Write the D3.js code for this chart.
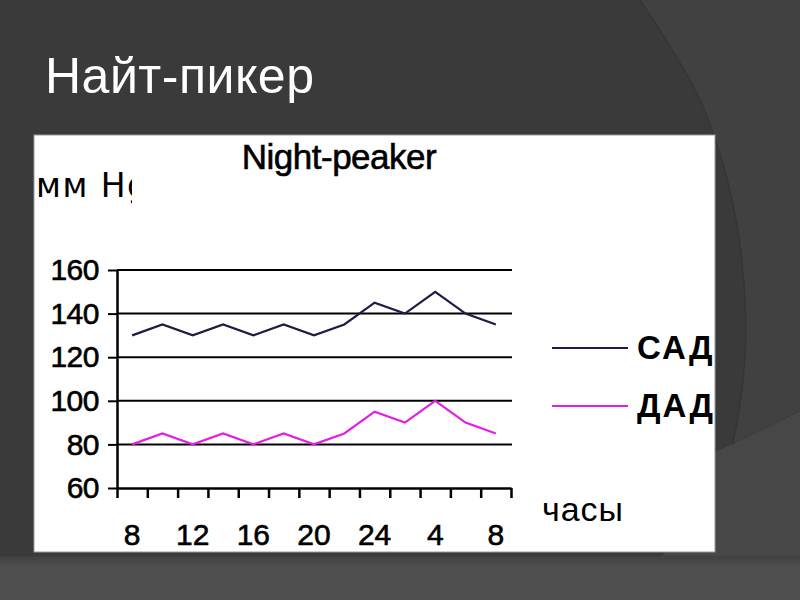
<!DOCTYPE html>
<html>
<head>
<meta charset="utf-8">
<script src="https://cdn.jsdelivr.net/npm/d3@7"></script>
<style>
  html, body { margin: 0; padding: 0; background: #3a3a3a; }
  svg { display: block; font-family: "Liberation Sans", Arial, sans-serif; }
  .ink { stroke: #000; stroke-width: 0.6px; }
</style>
</head>
<body>
<svg id="chart" width="800" height="600"></svg>
<script>
// ---- data ----
const hours = ["8","10","12","14","16","18","20","22","24","2","4","6","8"];
const tickLabelIdx = [0, 2, 4, 6, 8, 10, 12];
const sad = [130, 135, 130, 135, 130, 135, 130, 135, 145, 140, 150, 140, 135];
const dad = [80, 85, 80, 85, 80, 85, 80, 85, 95, 90, 100, 90, 85];
const yTicks = [60, 80, 100, 120, 140, 160];
const seriesNames = ["САД", "ДАД"];
const seriesColors = ["#1c1c44", "#e21fe2"];
const slideTitle = "Найт-пикер";
const chartTitle = "Night-peaker";
const yUnit = "мм Hg";
const xUnit = "часы";

const svg = d3.select("#chart");
const defs = svg.append("defs");

// ---- slide background ----
svg.append("rect").attr("width", 800).attr("height", 600).attr("fill", "#3a3a3a");
const arcPts = [[640, 0], [700, 100], [732, 200], [745, 300], [743, 380], [722, 480], [657, 600]];
const arcLine = d3.line().curve(d3.curveCatmullRom);
svg.append("path")
  .attr("d", arcLine(arcPts) + "L800,600L800,0Z")
  .attr("fill", "#414141");
svg.append("path")
  .attr("d", arcLine(arcPts))
  .attr("fill", "none").attr("stroke", "#353535").attr("stroke-width", 1.5);
svg.append("path")
  .attr("d", "M715,452 L800,411 L800,600 L640,600 Z")
  .attr("fill", "#474747");
svg.append("path")
  .attr("d", "M715,452 L800,411")
  .attr("fill", "none").attr("stroke", "#3a3a3a").attr("stroke-width", 1);
const bandGrad = defs.append("linearGradient")
  .attr("id", "band").attr("x1", 0).attr("x2", 0).attr("y1", 0).attr("y2", 1);
bandGrad.append("stop").attr("offset", 0).attr("stop-color", "#404040");
bandGrad.append("stop").attr("offset", 0.25).attr("stop-color", "#4e4e4e");
bandGrad.append("stop").attr("offset", 1).attr("stop-color", "#4e4e4e");
svg.append("rect").attr("x", 0).attr("y", 556).attr("width", 800).attr("height", 44)
  .attr("fill", "url(#band)");

svg.append("text")
  .attr("x", 45).attr("y", 93)
  .attr("fill", "#ffffff")
  .attr("font-size", 50)
  .attr("letter-spacing", 0.5)
  .text(slideTitle);

// ---- white panel ----
const panel = { x: 34, y: 135, w: 681, h: 417 };
svg.append("rect")
  .attr("x", panel.x).attr("y", panel.y).attr("width", panel.w).attr("height", panel.h)
  .attr("fill", "#ffffff").attr("stroke", "#9a9a9a").attr("stroke-width", 1);
defs.append("clipPath").attr("id", "panelClip")
  .append("rect").attr("x", panel.x).attr("y", panel.y).attr("width", panel.w).attr("height", panel.h);
defs.append("clipPath").attr("id", "unitClip")
  .append("rect").attr("x", panel.x).attr("y", panel.y).attr("width", 132 - panel.x).attr("height", 80);

const g = svg.append("g").attr("clip-path", "url(#panelClip)");

// ---- scales ----
const plot = { left: 117, right: 511, top: 270, bottom: 488 };
const x = d3.scaleBand().domain(d3.range(hours.length)).range([plot.left, plot.right]).padding(0);
const xEdge = d3.scaleLinear().domain([0, hours.length]).range([plot.left, plot.right]);
const y = d3.scaleLinear().domain([60, 160]).range([plot.bottom, plot.top]);
const cx = i => x(i) + x.bandwidth() / 2;

// titles
g.append("text")
  .attr("class", "ink")
  .attr("x", 339).attr("y", 169)
  .attr("text-anchor", "middle")
  .attr("font-size", 35)
  .attr("letter-spacing", -0.5)
  .attr("fill", "#000")
  .text(chartTitle);
g.append("g").attr("clip-path", "url(#unitClip)")
  .append("text")
  .attr("x", 36).attr("y", 197)
  .attr("font-size", 33)
  .attr("font-family", "DejaVu Sans, Verdana, sans-serif")
  .attr("letter-spacing", 1.5)
  .attr("fill", "#000")
  .text(yUnit);

// gridlines
g.append("g").selectAll("line")
  .data(yTicks.filter(v => v !== 60))
  .join("line")
  .attr("x1", plot.left).attr("x2", plot.right + 1)
  .attr("y1", d => y(d)).attr("y2", d => y(d))
  .attr("stroke", "#000").attr("stroke-width", 2);

// y axis
const yAxis = g.append("g")
  .attr("transform", `translate(${plot.left},0)`)
  .call(d3.axisLeft(y).tickValues(yTicks).tickSize(9).tickPadding(9).tickSizeOuter(0));
yAxis.select(".domain").attr("stroke", "#000").attr("stroke-width", 2.5);
yAxis.selectAll(".tick line").attr("stroke", "#000").attr("stroke-width", 2);
yAxis.selectAll(".tick text")
  .attr("class", "ink")
  .attr("font-size", 30).attr("font-family", "Liberation Sans, Arial, sans-serif")
  .attr("letter-spacing", -0.5)
  .attr("fill", "#000");

// x axis (ticks between categories)
const xAxis = g.append("g")
  .attr("transform", `translate(0,${plot.bottom})`)
  .call(d3.axisBottom(xEdge).tickValues(d3.range(hours.length + 1)).tickFormat("").tickSize(10).tickSizeOuter(0));
xAxis.select(".domain").attr("stroke", "#000").attr("stroke-width", 2.5);
xAxis.selectAll(".tick line").attr("stroke", "#000").attr("stroke-width", 2.5);

g.append("g").selectAll("text")
  .data(tickLabelIdx)
  .join("text")
  .attr("class", "ink")
  .attr("x", d => cx(d)).attr("y", 545)
  .attr("text-anchor", "middle")
  .attr("font-size", 30)
  .attr("fill", "#000")
  .text(d => hours[d]);

g.append("text")
  .attr("x", 542).attr("y", 521)
  .attr("font-size", 34)
  .attr("letter-spacing", 1)
  .attr("fill", "#000")
  .text(xUnit);

// series lines
const line = d3.line().x((d, i) => cx(i)).y(d => y(d));
[sad, dad].forEach((s, k) => {
  g.append("path")
    .datum(s)
    .attr("d", line)
    .attr("fill", "none")
    .attr("stroke", seriesColors[k])
    .attr("stroke-width", 2.2)
    .attr("stroke-linejoin", "miter");
});

// legend
const legY = [348, 406];
seriesNames.forEach((name, k) => {
  g.append("line")
    .attr("x1", 552).attr("x2", 628)
    .attr("y1", legY[k]).attr("y2", legY[k])
    .attr("stroke", seriesColors[k]).attr("stroke-width", 2.2);
  g.append("text")
    .attr("x", 637).attr("y", legY[k] + 11)
    .attr("font-size", 33).attr("font-weight", "bold")
    .attr("letter-spacing", 2)
    .attr("fill", "#000")
    .text(name);
});
</script>
</body>
</html>
